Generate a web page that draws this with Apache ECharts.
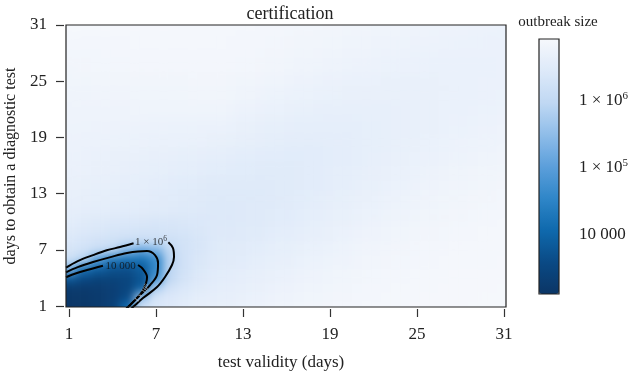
<!DOCTYPE html>
<html>
<head>
<meta charset="utf-8">
<title>certification</title>
<script src="https://cdn.jsdelivr.net/npm/echarts@6.0.0/dist/echarts.min.js"></script>
<style>
html,body{margin:0;padding:0;background:#fff;}
#wrap{position:relative;width:630px;height:371px;}
#heatClip{position:absolute;left:66px;top:25px;width:440px;height:282px;overflow:hidden;}
#heat{position:absolute;left:-66px;top:-25px;width:630px;height:371px;filter:blur(4px);}
#main{position:absolute;left:0;top:0;width:630px;height:371px;}
</style>
</head>
<body>
<div id="wrap">
  <div id="heatClip"><div id="heat"></div></div>
  <div id="main"></div>
</div>
<script>
// test validity (days) -> x, days to obtain a diagnostic test -> y
var validityDays = [1,2,3,4,5,6,7,8,9,10,11,12,13,14,15,16,17,18,19,20,21,22,23,24,25,26,27,28,29,30,31];
var delayDays = [1,2,3,4,5,6,7,8,9,10,11,12,13,14,15,16,17,18,19,20,21,22,23,24,25,26,27,28,29,30,31];

// log10(outbreak size), one row per delay (1..31), one column per validity (1..31)
var sizeLog10 = [
  [3.15,3.18,3.25,3.40,4.10,6.20,6.35,6.45,6.55,6.60,6.63,6.67,6.70,6.73,6.75,6.78,6.80,6.82,6.83,6.85,6.86,6.87,6.88,6.88,6.89,6.89,6.89,6.89,6.90,6.90,6.90],
  [3.18,3.20,3.25,3.35,3.60,5.60,6.30,6.42,6.50,6.58,6.60,6.63,6.67,6.70,6.73,6.75,6.78,6.80,6.82,6.83,6.85,6.86,6.87,6.88,6.88,6.89,6.89,6.89,6.89,6.90,6.90],
  [3.25,3.25,3.28,3.35,3.50,3.90,5.80,6.25,6.40,6.50,6.57,6.60,6.63,6.67,6.70,6.73,6.75,6.78,6.80,6.82,6.84,6.85,6.86,6.87,6.88,6.88,6.89,6.89,6.89,6.89,6.90],
  [3.85,3.60,3.45,3.45,3.50,3.75,4.80,6.00,6.30,6.45,6.53,6.57,6.60,6.64,6.67,6.70,6.73,6.76,6.78,6.80,6.82,6.84,6.85,6.86,6.87,6.88,6.88,6.89,6.89,6.89,6.89],
  [5.30,4.20,3.90,3.70,3.65,3.85,4.60,5.95,6.25,6.40,6.50,6.54,6.57,6.61,6.64,6.67,6.70,6.73,6.76,6.78,6.81,6.82,6.84,6.85,6.86,6.87,6.88,6.88,6.88,6.89,6.89],
  [6.15,5.85,4.90,4.30,4.20,4.20,4.60,5.90,6.25,6.38,6.48,6.51,6.54,6.58,6.61,6.64,6.68,6.71,6.74,6.76,6.79,6.81,6.83,6.84,6.85,6.86,6.87,6.88,6.88,6.88,6.89],
  [6.30,6.20,6.05,5.90,5.35,5.10,5.30,6.00,6.25,6.35,6.46,6.49,6.51,6.55,6.58,6.61,6.65,6.68,6.71,6.74,6.77,6.79,6.81,6.83,6.84,6.85,6.86,6.87,6.87,6.88,6.88],
  [6.40,6.32,6.25,6.20,6.12,6.10,6.12,6.18,6.28,6.35,6.44,6.47,6.49,6.52,6.56,6.59,6.62,6.65,6.69,6.72,6.75,6.77,6.79,6.81,6.83,6.84,6.85,6.86,6.87,6.87,6.88],
  [6.48,6.42,6.38,6.33,6.30,6.28,6.28,6.30,6.33,6.38,6.43,6.45,6.47,6.50,6.53,6.56,6.59,6.63,6.66,6.70,6.73,6.75,6.78,6.80,6.81,6.83,6.84,6.85,6.86,6.87,6.87],
  [6.55,6.50,6.46,6.42,6.40,6.38,6.36,6.36,6.38,6.40,6.43,6.44,6.46,6.48,6.51,6.54,6.57,6.61,6.64,6.67,6.70,6.73,6.76,6.78,6.80,6.82,6.83,6.84,6.85,6.86,6.87],
  [6.58,6.57,6.55,6.54,6.52,6.51,6.49,6.48,6.46,6.45,6.43,6.44,6.45,6.47,6.49,6.52,6.55,6.58,6.62,6.65,6.68,6.71,6.74,6.76,6.78,6.80,6.82,6.83,6.84,6.85,6.86],
  [6.62,6.60,6.58,6.57,6.55,6.53,6.51,6.49,6.48,6.46,6.44,6.44,6.45,6.47,6.48,6.51,6.53,6.56,6.60,6.63,6.66,6.69,6.72,6.74,6.76,6.78,6.80,6.82,6.83,6.84,6.85],
  [6.65,6.63,6.61,6.59,6.57,6.56,6.54,6.52,6.50,6.48,6.46,6.46,6.46,6.46,6.48,6.50,6.52,6.55,6.58,6.61,6.64,6.67,6.70,6.72,6.75,6.77,6.79,6.80,6.82,6.83,6.84],
  [6.67,6.65,6.63,6.61,6.59,6.58,6.56,6.54,6.52,6.50,6.48,6.48,6.47,6.47,6.48,6.49,6.51,6.54,6.57,6.59,6.62,6.65,6.68,6.71,6.73,6.75,6.77,6.79,6.80,6.82,6.83],
  [6.69,6.67,6.66,6.64,6.62,6.61,6.59,6.57,6.55,6.54,6.52,6.50,6.49,6.48,6.49,6.50,6.51,6.53,6.56,6.58,6.61,6.64,6.66,6.69,6.71,6.73,6.75,6.77,6.79,6.80,6.82],
  [6.70,6.69,6.67,6.66,6.64,6.63,6.61,6.60,6.58,6.57,6.55,6.54,6.52,6.51,6.50,6.50,6.51,6.53,6.55,6.57,6.60,6.63,6.65,6.67,6.70,6.72,6.74,6.76,6.77,6.79,6.80],
  [6.71,6.70,6.69,6.67,6.66,6.65,6.64,6.63,6.61,6.60,6.59,6.57,6.55,6.54,6.53,6.52,6.52,6.53,6.55,6.57,6.59,6.62,6.64,6.66,6.68,6.70,6.72,6.74,6.76,6.77,6.79],
  [6.72,6.71,6.70,6.69,6.68,6.68,6.67,6.66,6.65,6.64,6.63,6.61,6.59,6.57,6.55,6.54,6.54,6.54,6.55,6.57,6.59,6.61,6.63,6.65,6.67,6.69,6.71,6.73,6.74,6.76,6.77],
  [6.73,6.72,6.72,6.71,6.71,6.70,6.69,6.69,6.68,6.68,6.67,6.65,6.62,6.60,6.58,6.57,6.56,6.56,6.56,6.57,6.59,6.61,6.63,6.64,6.66,6.68,6.70,6.72,6.73,6.74,6.76],
  [6.74,6.74,6.73,6.73,6.72,6.72,6.72,6.71,6.71,6.70,6.70,6.68,6.66,6.63,6.61,6.60,6.59,6.58,6.58,6.59,6.59,6.61,6.62,6.64,6.65,6.67,6.69,6.71,6.72,6.73,6.75],
  [6.75,6.75,6.75,6.75,6.75,6.75,6.74,6.74,6.74,6.74,6.74,6.72,6.69,6.67,6.65,6.63,6.61,6.61,6.60,6.60,6.61,6.62,6.63,6.64,6.65,6.67,6.68,6.70,6.71,6.72,6.73],
  [6.76,6.76,6.76,6.76,6.76,6.77,6.77,6.77,6.77,6.77,6.77,6.75,6.72,6.70,6.68,6.66,6.65,6.63,6.62,6.62,6.62,6.63,6.63,6.64,6.65,6.67,6.68,6.69,6.70,6.71,6.72],
  [6.77,6.77,6.77,6.78,6.78,6.78,6.78,6.78,6.79,6.79,6.79,6.78,6.75,6.73,6.71,6.69,6.68,6.66,6.65,6.64,6.64,6.64,6.64,6.65,6.65,6.66,6.68,6.69,6.69,6.70,6.71],
  [6.78,6.78,6.79,6.79,6.79,6.80,6.80,6.80,6.80,6.81,6.81,6.80,6.78,6.76,6.74,6.72,6.71,6.69,6.68,6.67,6.66,6.66,6.66,6.66,6.66,6.67,6.67,6.68,6.69,6.70,6.71],
  [6.80,6.80,6.81,6.81,6.81,6.82,6.82,6.82,6.82,6.83,6.83,6.82,6.80,6.79,6.77,6.75,6.73,6.72,6.70,6.69,6.68,6.68,6.67,6.67,6.67,6.67,6.68,6.68,6.69,6.70,6.70],
  [6.81,6.81,6.82,6.82,6.83,6.83,6.83,6.84,6.84,6.85,6.85,6.83,6.82,6.81,6.79,6.78,6.76,6.74,6.73,6.72,6.71,6.70,6.69,6.69,6.68,6.68,6.68,6.68,6.69,6.69,6.70],
  [6.83,6.83,6.84,6.84,6.84,6.85,6.85,6.85,6.86,6.86,6.86,6.85,6.84,6.83,6.81,6.80,6.78,6.77,6.75,6.74,6.73,6.72,6.71,6.70,6.70,6.69,6.69,6.69,6.69,6.69,6.70],
  [6.84,6.84,6.84,6.85,6.85,6.85,6.85,6.85,6.86,6.86,6.86,6.86,6.85,6.84,6.83,6.82,6.80,6.79,6.78,6.76,6.75,6.74,6.73,6.72,6.71,6.71,6.70,6.70,6.70,6.70,6.70],
  [6.86,6.86,6.86,6.86,6.86,6.87,6.87,6.87,6.87,6.87,6.87,6.86,6.86,6.85,6.84,6.83,6.82,6.81,6.80,6.78,6.77,6.76,6.75,6.74,6.73,6.73,6.72,6.71,6.71,6.70,6.70],
  [6.88,6.88,6.88,6.88,6.88,6.88,6.87,6.87,6.87,6.87,6.87,6.87,6.86,6.86,6.85,6.84,6.83,6.82,6.81,6.80,6.79,6.78,6.77,6.76,6.75,6.74,6.73,6.73,6.72,6.71,6.71],
  [6.90,6.90,6.90,6.89,6.89,6.89,6.89,6.89,6.88,6.88,6.88,6.87,6.87,6.86,6.86,6.85,6.84,6.84,6.83,6.82,6.81,6.80,6.79,6.78,6.76,6.76,6.75,6.74,6.73,6.73,6.72]
];

// contour lines [validity, delay], '-' where the label sits
var contour1e6 = [[0.79,5.1],[1.6,5.8],[2.66,6.44],[3.6,6.95],[4.52,7.3],[5.45,7.7],'-',[7.85,7.8],[8.17,7.19],[8.24,6.23],[8.1,5.38],[7.62,4.1],[7.07,3.03],[6.1,1.85],[5.41,0.89],[5.2,0.6]];
var contour1e5 = [[0.79,4.6],[1.6,5.15],[2.66,5.7],[3.8,6.2],[5.0,6.66],[6.38,6.87],[6.93,6.44],[7.14,5.59],[7.07,4.31],[6.59,3.24],[5.9,2.17],[5.21,1.11],[4.72,0.36]];
var contour1e4 = [[0.79,4.08],[1.5,4.5],[2.24,4.84],[3.34,5.3],'-',[5.76,5.38],[6.1,4.95],[6.38,4.1],[6.31,3.45],[6.03,2.49],[5.55,1.64],[5.0,0.79],[4.8,0.5]];
var contourLabels = [
  {value: [6.66, 7.8], text: '{n|1 × 10}{s|6}', rotate: 0},
  {value: [4.55, 5.3], text: '{n|10 000}', rotate: 0},
  {value: [6.05, 2.35], text: '{w|1 × 10}{ws|5}', rotate: 52}
];

var xTicks = [1, 7, 13, 19, 25, 31];
var yTicks = [1, 7, 13, 19, 25, 31];
var barTicks = [4, 5, 6];
var barMin = 3.12, barMax = 6.91;
var barColors = ['#0b3565', '#0a4a85', '#0f69ad', '#2f86c8', '#5c9fdb', '#8fbde9', '#c0d8f3', '#dde9f9', '#f6f8fc'];

var serif = 'Liberation Serif';
var ink = '#222';
var plotGrid = {left: 66, top: 25, width: 440, height: 282, outerBoundsMode: 'none', containLabel: false};
var xRange = {min: 0.79, max: 31.14};
var yRange = {min: 0.9, max: 31.0};

var heatData = [];
for (var i = 0; i < delayDays.length; i++) {
  for (var j = 0; j < validityDays.length; j++) {
    heatData.push([validityDays[j], delayDays[i], sizeLog10[i][j]]);
  }
}

// 热力图层（单独画布，模糊后放在下面）
var heatChart = echarts.init(document.getElementById('heat'));
function renderCell(params, api) {
  var x = api.value(0), y = api.value(1);
  var x0 = x - 0.5, x1 = x + 0.5, y0 = y - 0.5, y1 = y + 0.5;
  // edge cells run past the frame so the blur has no pale rim
  if (x === validityDays[0]) x0 -= 1.5;
  if (x === validityDays[validityDays.length - 1]) x1 += 1.5;
  if (y === delayDays[0]) y0 -= 1.5;
  if (y === delayDays[delayDays.length - 1]) y1 += 1.5;
  var p0 = api.coord([x0, y1]);
  var p1 = api.coord([x1, y0]);
  return {
    type: 'rect',
    shape: {x: p0[0], y: p0[1], width: p1[0] - p0[0] + 0.6, height: p1[1] - p0[1] + 0.6},
    style: {fill: api.visual('color')}
  };
}
heatChart.setOption({
  animation: false,
  grid: [plotGrid],
  xAxis: [{type: 'value', min: xRange.min, max: xRange.max, show: false}],
  yAxis: [{type: 'value', min: yRange.min, max: yRange.max, show: false}],
  visualMap: {type: 'continuous', show: false, seriesIndex: 0, dimension: 2, min: barMin, max: barMax,
    inRange: {color: barColors}},
  series: [{type: 'custom', data: heatData, renderItem: renderCell, clip: false, silent: true, encode: {x: 0, y: 1}}]
});

// 坐标轴、等值线、色标
var chart = echarts.init(document.getElementById('main'));

function contourLine(data) {
  return {
    type: 'line', xAxisIndex: 0, yAxisIndex: 0, data: data, smooth: 0.35,
    showSymbol: false, symbol: 'none', connectNulls: false, clip: true, silent: true, z: 3,
    lineStyle: {color: '#000', width: 2}
  };
}

var option = {
  backgroundColor: 'transparent',
  animation: false,
  title: [
    {text: 'certification', left: 285, top: 0, textAlign: 'center',
     textStyle: {fontFamily: serif, fontSize: 18, fontWeight: 'normal', color: ink}},
    {text: 'outbreak size', left: 553, top: 10, textAlign: 'center',
     textStyle: {fontFamily: serif, fontSize: 15, fontWeight: 'normal', color: ink}}
  ],
  grid: [
    {left: plotGrid.left, top: plotGrid.top, width: plotGrid.width, height: plotGrid.height,
     outerBoundsMode: 'none', containLabel: false, show: true,
     borderColor: '#222', borderWidth: 1.2, backgroundColor: 'transparent', z: 5},
    {left: 539, top: 39, width: 20, height: 255, outerBoundsMode: 'none', containLabel: false,
     show: true, borderColor: '#222', borderWidth: 1.2, backgroundColor: 'transparent', z: 10}
  ],
  xAxis: [
    {type: 'value', gridIndex: 0, min: xRange.min, max: xRange.max, offset: 2,
     axisLine: {show: false}, splitLine: {show: false},
     axisTick: {show: true, length: 8, customValues: xTicks, lineStyle: {color: '#333', width: 1.2}},
     axisLabel: {customValues: xTicks, margin: 17, fontFamily: serif, fontSize: 17, color: ink},
     name: 'test validity (days)', nameLocation: 'middle', nameGap: 45,
     nameTextStyle: {fontFamily: serif, fontSize: 17, color: ink, padding: [0, 10, 0, 0]}},
    {type: 'value', gridIndex: 1, show: false, min: 0, max: 1}
  ],
  yAxis: [
    {type: 'value', gridIndex: 0, min: yRange.min, max: yRange.max, offset: 2,
     axisLine: {show: false}, splitLine: {show: false},
     axisTick: {show: true, length: 8, customValues: yTicks, lineStyle: {color: '#333', width: 1.2}},
     axisLabel: {customValues: yTicks, margin: 17, fontFamily: serif, fontSize: 17, color: ink},
     name: 'days to obtain a diagnostic test', nameLocation: 'middle', nameGap: 42, nameRotate: 90,
     nameTextStyle: {fontFamily: serif, fontSize: 16, color: ink}},
    {type: 'value', gridIndex: 1, position: 'right', min: barMin, max: barMax,
     axisLine: {show: false}, splitLine: {show: false},
     axisTick: {show: true, length: 9, customValues: barTicks, lineStyle: {color: '#333', width: 1.2}},
     axisLabel: {customValues: barTicks, margin: 20, color: ink,
       formatter: function (v) {
         if (Math.round(v) === 4) return '{n|10 000}';
         return '{n|1 × 10}{s|' + Math.round(v) + '}';
       },
       rich: {
         n: {fontFamily: serif, fontSize: 17, color: ink},
         s: {fontFamily: serif, fontSize: 11, color: ink, verticalAlign: 'bottom', padding: [0, 0, 9, 0]}
       }}}
  ],
  visualMap: {
    type: 'continuous', seriesIndex: [], dimension: 2, min: barMin, max: barMax,
    left: 539, top: 39, itemWidth: 20, itemHeight: 255, padding: 0,
    calculable: false, realtime: false, hoverLink: false, z: 4,
    inRange: {color: barColors}
  },
  series: [
    contourLine(contour1e6),
    contourLine(contour1e5),
    contourLine(contour1e4),
    {type: 'scatter', xAxisIndex: 0, yAxisIndex: 0, symbolSize: 0, silent: true, z: 6,
     data: contourLabels.map(function (d) {
       return {value: d.value, label: {formatter: d.text, rotate: d.rotate}};
     }),
     label: {show: true, position: 'inside',
       rich: {
         n: {fontFamily: serif, fontSize: 11, color: '#111'},
         s: {fontFamily: serif, fontSize: 7.5, color: '#111', verticalAlign: 'bottom', padding: [0, 0, 6, 0]},
         w: {fontFamily: serif, fontSize: 7, color: '#e8f0fa'},
         ws: {fontFamily: serif, fontSize: 5, color: '#e8f0fa', verticalAlign: 'bottom', padding: [0, 0, 4, 0]}
       }}}
  ]
};

chart.setOption(option);
</script>
</body>
</html>
